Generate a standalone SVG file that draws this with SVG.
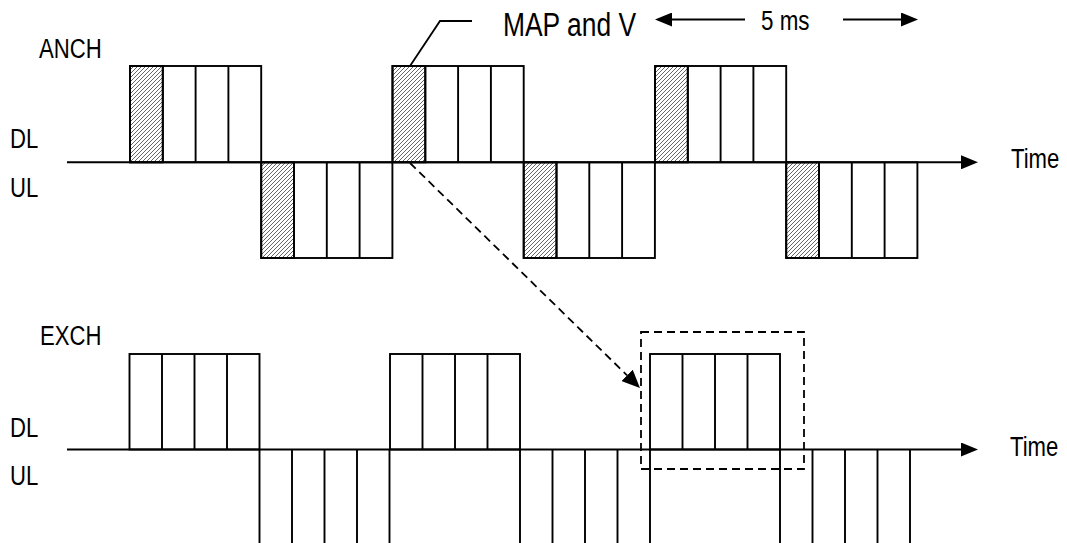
<svg xmlns="http://www.w3.org/2000/svg" width="1067" height="543" viewBox="0 0 1067 543">
<style>
  .lbl { font-family: "Liberation Sans", Arial, sans-serif; font-size: 28px; fill: #000; }
  .big { font-size: 33px; }
  .mid { font-size: 28px; }
  .box { fill: none; stroke: #000; stroke-width: 1.9; }
  .cell { stroke: #000; stroke-width: 1.9; }
  .hatch { fill: url(#hatch); stroke: #000; stroke-width: 1.9; }
  .axis { stroke: #000; stroke-width: 2; fill: none; }
  .thin { stroke: #000; stroke-width: 1.8; fill: none; }
  .dash { stroke: #000; stroke-width: 1.8; fill: none; stroke-dasharray: 8 5; }
</style>
<defs>
  <pattern id="hatch" patternUnits="userSpaceOnUse" width="4" height="4">
    <rect width="4" height="4" fill="#fff"/>
    <path d="M-1,1 L1,-1 M0,4 L4,0 M3,5 L5,3" stroke="#555" stroke-width="0.9"/>
  </pattern>
  <marker id="ah" markerUnits="userSpaceOnUse" markerWidth="17" markerHeight="14" refX="0" refY="7" orient="auto">
    <path d="M0,0 L17,7 L0,14 Z" fill="#000" stroke="none"/>
  </marker>
  <marker id="ahd" markerUnits="userSpaceOnUse" markerWidth="18" markerHeight="16" refX="0" refY="8" orient="auto">
    <path d="M0,0 L18,8 L0,16 Z" fill="#000" stroke="none"/>
  </marker>
</defs>

<g id="labels">
  <text class="lbl" transform="translate(39,58) scale(0.79,1)">ANCH</text>
  <text class="lbl" transform="translate(10,148) scale(0.79,1)">DL</text>
  <text class="lbl" transform="translate(10,197) scale(0.79,1)">UL</text>
  <text class="lbl" transform="translate(1011,168) scale(0.79,1)">Time</text>
  <text class="lbl" transform="translate(40,345) scale(0.79,1)">EXCH</text>
  <text class="lbl" transform="translate(10,437) scale(0.79,1)">DL</text>
  <text class="lbl" transform="translate(10,485) scale(0.79,1)">UL</text>
  <text class="lbl" transform="translate(1010,456) scale(0.79,1)">Time</text>
  <text class="lbl big" transform="translate(503,36) scale(0.8,1)">MAP and V</text>
  <text class="lbl mid" transform="translate(761,30) scale(0.8,1)">5 ms</text>
</g>

<g id="anch-dl1">
  <rect class="hatch" x="130" y="66" width="32.8" height="96.3"/>
  <rect class="box" x="130" y="66" width="131.2" height="96.3"/>
  <path class="cell" d="M162.8,66 V162.3 M195.6,66 V162.3 M228.4,66 V162.3"/>
</g>
<g id="anch-ul1">
  <rect class="hatch" x="261.2" y="162.3" width="32.8" height="95.7"/>
  <rect class="box" x="261.2" y="162.3" width="131.2" height="95.7"/>
  <path class="cell" d="M294,162.3 V258 M326.8,162.3 V258 M359.6,162.3 V258"/>
</g>
<g id="anch-dl2">
  <rect class="hatch" x="392.5" y="66" width="32.8" height="96.3"/>
  <rect class="box" x="392.5" y="66" width="131.2" height="96.3"/>
  <path class="cell" d="M425.3,66 V162.3 M458.1,66 V162.3 M490.9,66 V162.3"/>
</g>
<g id="anch-ul2">
  <rect class="hatch" x="523.7" y="162.3" width="32.8" height="95.7"/>
  <rect class="box" x="523.7" y="162.3" width="131.2" height="95.7"/>
  <path class="cell" d="M556.5,162.3 V258 M589.3,162.3 V258 M622.1,162.3 V258"/>
</g>
<g id="anch-dl3">
  <rect class="hatch" x="655" y="66" width="32.8" height="96.3"/>
  <rect class="box" x="655" y="66" width="131.2" height="96.3"/>
  <path class="cell" d="M687.8,66 V162.3 M720.6,66 V162.3 M753.4,66 V162.3"/>
</g>
<g id="anch-ul3">
  <rect class="hatch" x="786.2" y="162.3" width="32.8" height="95.7"/>
  <rect class="box" x="786.2" y="162.3" width="131.2" height="95.7"/>
  <path class="cell" d="M819,162.3 V258 M851.8,162.3 V258 M884.6,162.3 V258"/>
</g>

<g id="exch-dl1">
  <rect class="box" x="129.5" y="354" width="130" height="95.5"/>
  <path class="cell" d="M162,354 V449.5 M194.5,354 V449.5 M227,354 V449.5"/>
</g>
<g id="exch-ul1">
  <path class="cell" d="M259.5,449.5 V545 M292,449.5 V545 M324.5,449.5 V545 M357,449.5 V545 M389.5,449.5 V545"/>
</g>
<g id="exch-dl2">
  <rect class="box" x="390" y="354" width="130" height="95.5"/>
  <path class="cell" d="M422.5,354 V449.5 M455,354 V449.5 M487.5,354 V449.5"/>
</g>
<g id="exch-ul2">
  <path class="cell" d="M520,449.5 V545 M552.5,449.5 V545 M585,449.5 V545 M617.5,449.5 V545 M650,449.5 V545"/>
</g>
<g id="exch-dl3">
  <rect class="box" x="650" y="354" width="130" height="95.5"/>
  <path class="cell" d="M682.5,354 V449.5 M715,354 V449.5 M747.5,354 V449.5"/>
</g>
<g id="exch-ul3">
  <path class="cell" d="M780,449.5 V545 M812.5,449.5 V545 M845,449.5 V545 M877.5,449.5 V545 M910,449.5 V545"/>
</g>

<g id="highlight">
  <rect class="dash" x="641" y="332" width="163" height="137"/>
</g>

<g id="connectors">
  <line class="axis" x1="67" y1="162.3" x2="961" y2="162.3" marker-end="url(#ah)"/>
  <line class="axis" x1="67" y1="449.5" x2="961" y2="449.5" marker-end="url(#ah)"/>
  <line class="thin" x1="745" y1="19.5" x2="672" y2="19.5" marker-end="url(#ah)"/>
  <line class="thin" x1="843" y1="19.5" x2="901" y2="19.5" marker-end="url(#ah)"/>
  <polyline class="thin" points="472,21 440,21 410,66"/>
  <line class="dash" x1="410" y1="163" x2="627.1" y2="375.4" marker-end="url(#ahd)"/>
</g>
</svg>
